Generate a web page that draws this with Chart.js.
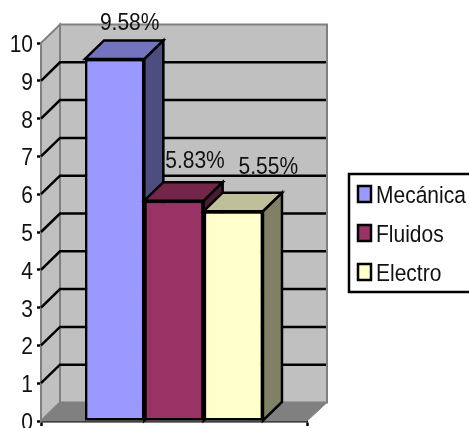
<!DOCTYPE html>
<html>
<head>
<meta charset="utf-8">
<title>Mecánica, Fluidos, Electro</title>
<style>
  html, body { margin: 0; padding: 0; background: #fff; overflow: hidden; }
  canvas { display: block; }
</style>
<script src="https://cdn.jsdelivr.net/npm/chart.js@4"></script>
</head>
<body>
<canvas id="chart" width="469" height="428"></canvas>
<script>
const seriesNames = ['Mecánica', 'Fluidos', 'Electro'];
const seriesValues = [9.58, 5.83, 5.55];
const valueLabels = ['9.58%', '5.83%', '5.55%'];
const frontColors = ['#9999FF', '#993366', '#FFFFCC'];
const topColors = ['#7373BF', '#732649', '#BFBF99'];
const sideColors = ['#4D4D80', '#4D1A33', '#808066'];
const yTicks = [0, 1, 2, 3, 4, 5, 6, 7, 8, 9, 10];

const FONT = '21px "Liberation Sans", Arial, sans-serif';
const TEXT_STRETCH = 1.18;
const LINE = 2.5;
const DEPTH_X = 19;
const DEPTH_Y = 18.5;

function poly(ctx, pts, fill, stroke, width) {
    ctx.beginPath();
    pts.forEach((p, i) => i ? ctx.lineTo(p[0], p[1]) : ctx.moveTo(p[0], p[1]));
    ctx.closePath();
    ctx.fillStyle = fill;
    ctx.fill();
    ctx.strokeStyle = stroke;
    ctx.lineWidth = width;
    ctx.lineJoin = 'miter';
    ctx.stroke();
}

// the chart's lettering is taller than the font's own proportions
function tallText(ctx, text, x, y, align) {
    ctx.save();
    ctx.translate(x, y);
    ctx.scale(1, TEXT_STRETCH);
    ctx.font = FONT;
    ctx.fillStyle = '#111';
    ctx.textAlign = align;
    ctx.textBaseline = 'alphabetic';
    ctx.fillText(text, 0, 0);
    ctx.restore();
}

// back wall, side wall, floor and the gridlines running across them
const wallsPlugin = {
    id: 'walls',
    beforeDatasetsDraw(chart) {
        const ctx = chart.ctx;
        const { left, right, top, bottom } = chart.chartArea;
        const y = chart.scales.y;
        ctx.save();
        poly(ctx, [[left + DEPTH_X, top - DEPTH_Y], [right + DEPTH_X + 1, top - DEPTH_Y], [right + DEPTH_X + 1, bottom - DEPTH_Y], [left + DEPTH_X, bottom - DEPTH_Y]], '#C0C0C0', '#808080', 2);
        poly(ctx, [[left, top], [left + DEPTH_X, top - DEPTH_Y], [left + DEPTH_X, bottom - DEPTH_Y], [left, bottom]], '#C0C0C0', '#808080', 2);
        poly(ctx, [[left, bottom], [left + DEPTH_X, bottom - DEPTH_Y], [right + DEPTH_X + 1, bottom - DEPTH_Y], [right, bottom]], '#808080', '#808080', 1);
        ctx.strokeStyle = '#000';
        ctx.lineWidth = LINE;
        yTicks.slice(1, -1).forEach(v => {
            const py = y.getPixelForValue(v);
            ctx.beginPath();
            ctx.moveTo(left, py);
            ctx.lineTo(left + DEPTH_X, py - DEPTH_Y);
            ctx.lineTo(right + DEPTH_X, py - DEPTH_Y);
            ctx.stroke();
        });
        ctx.restore();
    }
};

// side and top faces of each column, left to right, with the front repainted over them
const columnsPlugin = {
    id: 'columns',
    afterDatasetsDraw(chart) {
        const ctx = chart.ctx;
        ctx.save();
        seriesValues.forEach((v, i) => {
            const bar = chart.getDatasetMeta(i).data[0];
            const l = bar.x - bar.width / 2;
            const r = bar.x + bar.width / 2;
            poly(ctx, [[r, bar.y], [r + DEPTH_X, bar.y - DEPTH_Y], [r + DEPTH_X, bar.base - DEPTH_Y], [r, bar.base]], sideColors[i], '#000', LINE);
            poly(ctx, [[l, bar.y], [l + DEPTH_X, bar.y - DEPTH_Y], [r + DEPTH_X, bar.y - DEPTH_Y], [r, bar.y]], topColors[i], '#000', LINE);
            bar.draw(ctx);
        });
        ctx.restore();
    }
};

// tick numbers, value labels above the columns and the boxed key on the right
const labelsPlugin = {
    id: 'labels',
    afterDraw(chart) {
        const ctx = chart.ctx;
        const y = chart.scales.y;
        const shifts = [15, 21, 35];
        const lifts = [29, 33, 37];
        yTicks.forEach(v => tallText(ctx, String(v), 33, y.getPixelForValue(v) + 9, 'right'));
        valueLabels.forEach((t, i) => {
            const bar = chart.getDatasetMeta(i).data[0];
            tallText(ctx, t, bar.x + shifts[i], bar.y - lifts[i], 'center');
        });

        ctx.save();
        ctx.strokeStyle = '#000';
        ctx.lineWidth = LINE;
        ctx.fillStyle = '#fff';
        ctx.fillRect(349, 174, 125, 118);
        ctx.strokeRect(349, 174, 125, 118);
        seriesNames.forEach((name, i) => {
            const cy = 194 + i * 39;
            ctx.fillStyle = frontColors[i];
            ctx.fillRect(358, cy - 8, 13, 16);
            ctx.strokeRect(358, cy - 8, 13, 16);
            tallText(ctx, name, 376, cy + 9, 'left');
        });
        ctx.restore();
    }
};

new Chart(document.getElementById('chart'), {
    type: 'bar',
    data: {
        labels: [''],
        datasets: seriesNames.map((name, i) => ({
            label: name,
            data: [seriesValues[i]],
            backgroundColor: frontColors[i],
            borderColor: '#000',
            borderWidth: LINE,
            borderSkipped: false,
            categoryPercentage: 0.669,
            barPercentage: 1
        }))
    },
    options: {
        responsive: false,
        animation: false,
        layout: { padding: { top: 43, right: 162, left: 0, bottom: 0 } },
        plugins: { legend: { display: false }, tooltip: { enabled: false } },
        scales: {
            x: {
                afterFit(s) { s.height = 7; s.paddingLeft = 0; s.paddingRight = 0; },
                ticks: { display: false },
                border: { color: '#000', width: LINE },
                grid: { drawOnChartArea: false, tickLength: 5, tickColor: '#000', tickWidth: LINE }
            },
            y: {
                min: 0,
                max: 10,
                afterFit(s) { s.width = 41; s.paddingTop = 0; s.paddingBottom = 0; },
                afterBuildTicks(s) { s.ticks = yTicks.map(value => ({ value })); },
                ticks: { display: false },
                border: { color: '#000', width: LINE },
                grid: { drawOnChartArea: false, tickLength: 4, tickColor: '#000', tickWidth: LINE }
            }
        }
    },
    plugins: [wallsPlugin, columnsPlugin, labelsPlugin]
});
</script>
</body>
</html>
